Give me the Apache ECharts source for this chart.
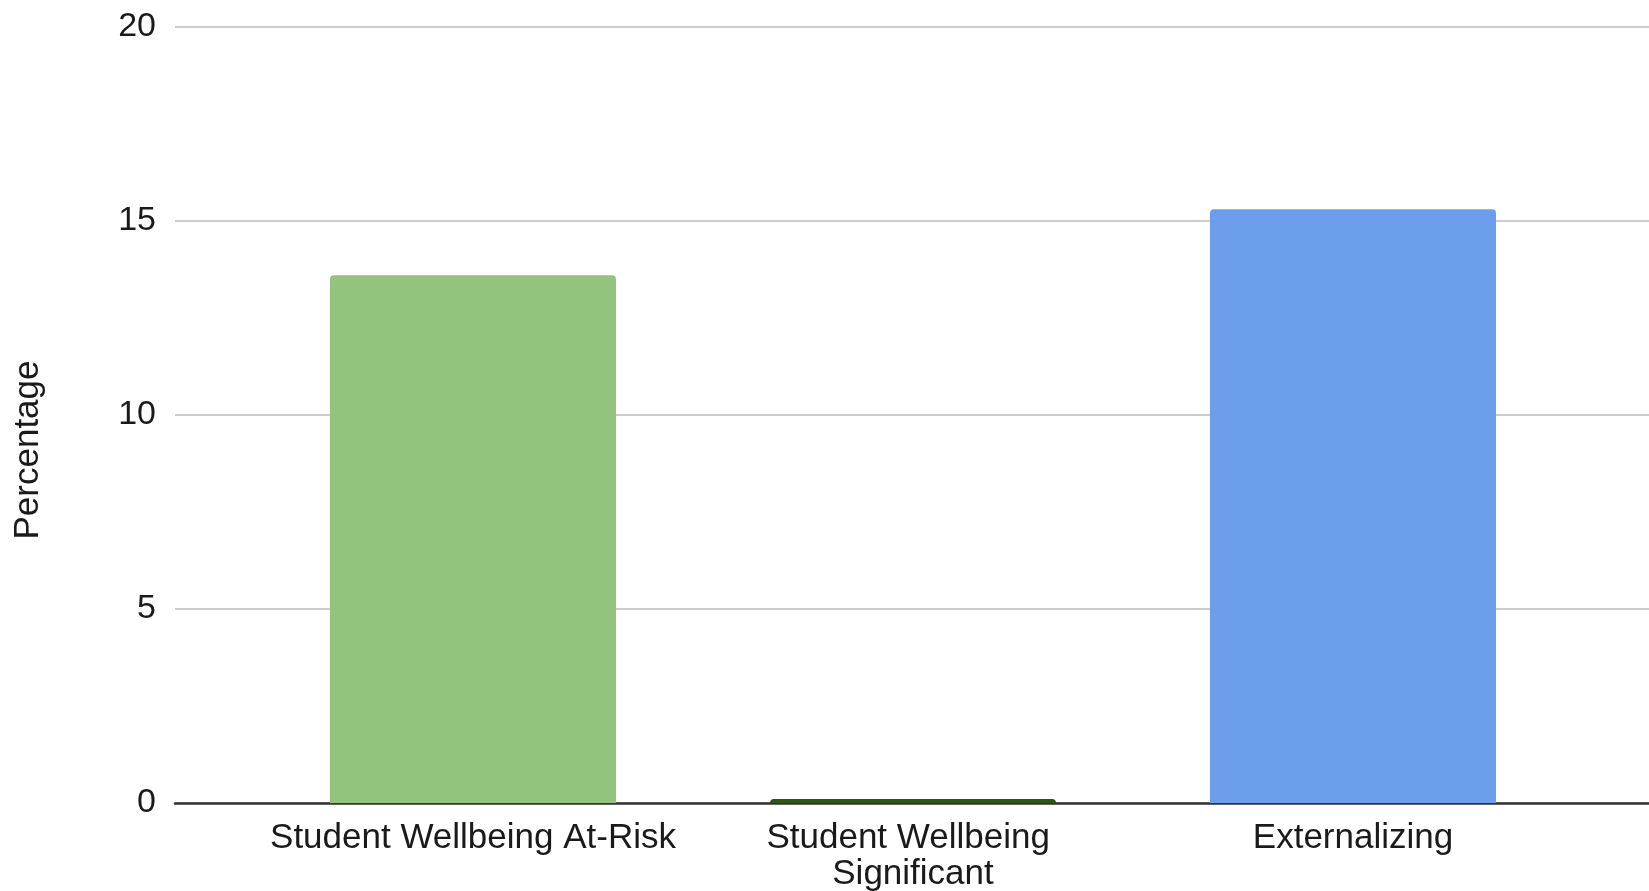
<!DOCTYPE html>
<html>
<head>
<meta charset="utf-8">
<script src="https://cdn.jsdelivr.net/npm/echarts@6/dist/echarts.min.js"></script>
<style>
  html, body { margin: 0; padding: 0; background: #ffffff; }
  #chart { width: 1649px; height: 891px; }
</style>
</head>
<body>
<div id="chart"></div>
<script>
// Categories and their percentages
const categories = ['Student Wellbeing At-Risk', 'Student Wellbeing Significant', 'Externalizing'];
const percentages = [13.6, 0.1, 15.3];
const barColors = ['#93c47d', '#2f5417', '#6d9eeb'];
const yTicks = [0, 5, 10, 15, 20];
const yAxisTitle = 'Percentage';

const FONT = '"Liberation Sans", Arial, sans-serif';
const TEXT_COLOR = '#1a1a1a';
const TOP = 27;
const BOTTOM = 88;

const chart = echarts.init(document.getElementById('chart'), null, { renderer: 'canvas' });

chart.setOption({
  backgroundColor: '#ffffff',
  animation: false,
  grid: [
    // frame: value gridlines and baseline across the full width
    { left: 175, right: 0, top: TOP, bottom: BOTTOM, outerBoundsMode: 'none', containLabel: false },
    // bars, inset within the frame
    { left: 253, right: 76, top: TOP, bottom: BOTTOM, outerBoundsMode: 'none', containLabel: false }
  ],
  graphic: [
    {
      type: 'text', x: 28, y: 450, rotation: Math.PI / 2,
      style: {
        text: yAxisTitle, fill: TEXT_COLOR, font: '35px ' + FONT,
        textAlign: 'center', textVerticalAlign: 'middle'
      }
    }
  ],
  xAxis: [
    {
      gridIndex: 0, type: 'value', min: 0, max: 1,
      axisLine: { show: true, lineStyle: { color: '#333333', width: 2.5 } },
      axisTick: { show: false }, axisLabel: { show: false }, splitLine: { show: false }
    },
    {
      gridIndex: 1, type: 'category', data: categories,
      axisLine: { show: false }, axisTick: { show: false },
      axisLabel: {
        color: TEXT_COLOR, fontFamily: FONT, fontSize: 35, margin: 17,
        lineHeight: 36, width: 430, overflow: 'break', interval: 0
      }
    }
  ],
  yAxis: [
    {
      gridIndex: 0, type: 'value', min: yTicks[0], max: yTicks[yTicks.length - 1], interval: 5,
      axisLine: { show: false }, axisTick: { show: false },
      axisLabel: { color: TEXT_COLOR, fontFamily: FONT, fontSize: 34, margin: 19 },
      splitLine: { show: true, lineStyle: { color: '#cccccc', width: 2 } }
    },
    {
      gridIndex: 1, type: 'value', min: yTicks[0], max: yTicks[yTicks.length - 1], interval: 5,
      show: false, splitLine: { show: false }
    }
  ],
  series: [
    {
      type: 'bar', xAxisIndex: 1, yAxisIndex: 1,
      barWidth: '65%',
      data: percentages.map((v, i) => ({
        value: v,
        itemStyle: { color: barColors[i], borderRadius: [4, 4, 0, 0] }
      }))
    }
  ]
});
</script>
</body>
</html>
